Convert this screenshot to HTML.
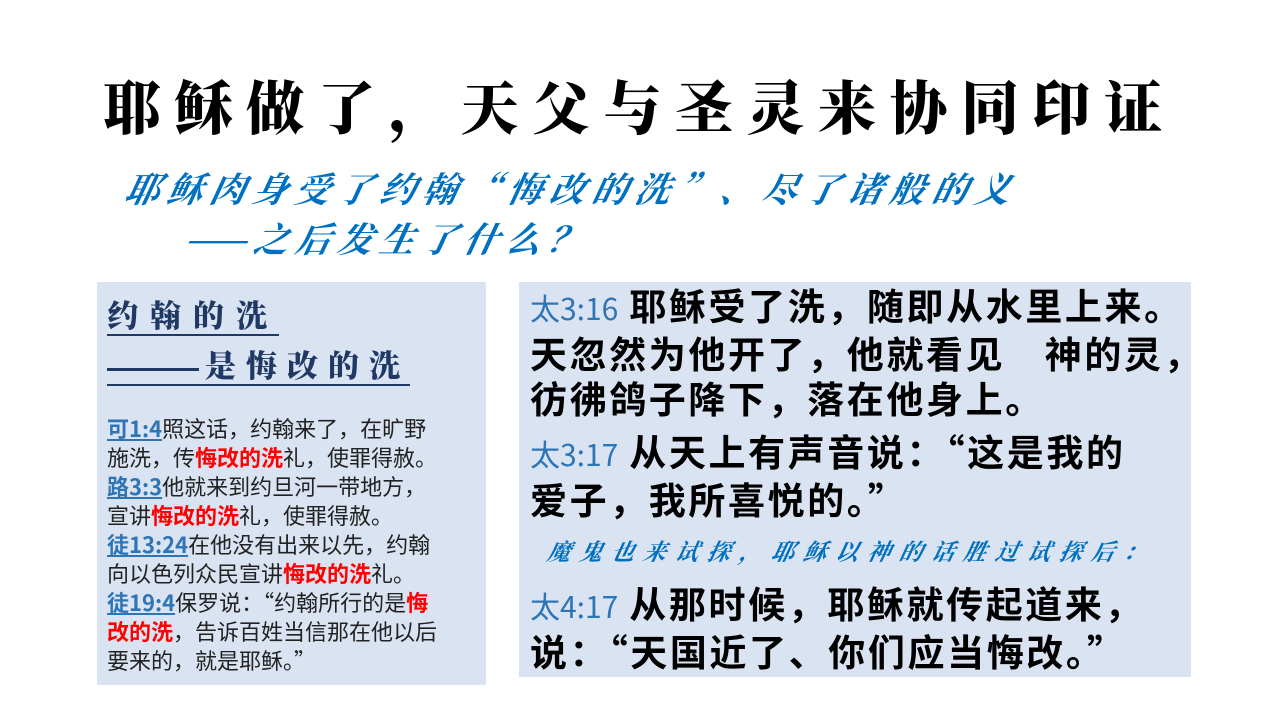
<!DOCTYPE html>
<html><head><meta charset="utf-8"><style>
body{margin:0;width:1280px;height:720px;background:#fff;position:relative;overflow:hidden;font-family:"Noto Sans CJK SC","Liberation Sans",sans-serif}
.a{position:absolute;white-space:nowrap}
#title{left:103px;top:64px;font-family:"Noto Serif CJK SC",serif;font-weight:900;font-size:58px;letter-spacing:13.5px;color:#000;line-height:80px}
.sub{color:#0070c0;font-style:italic;font-size:35px;font-family:"Noto Serif CJK SC",serif;font-weight:700;transform:skewX(-12deg);line-height:48px}
#lb{left:97px;top:282px;width:389px;height:403px;background:#dae3f1}
#rb{left:519px;top:282px;width:672px;height:395px;background:#dae3f1}
.h{color:#1f3864;font-family:"Noto Serif CJK SC",serif;font-weight:900;font-size:31px;letter-spacing:12px;border-bottom:2px solid #1f3864;line-height:40px}
.lt{left:107px;top:414px;font-size:22px;line-height:29px;color:#222}
.ref{color:#2e75b6;font-weight:bold;text-decoration:underline}
.red{color:#f00;font-weight:bold}
.rt{left:530px;font-size:37px;letter-spacing:2.6px;font-weight:bold;color:#000;line-height:45px}
.rr{color:#2e75b6;font-weight:normal;font-size:30px;letter-spacing:0}
.dash{display:inline-block;width:92px;height:3px;background:#1f3864;vertical-align:middle;margin-right:6px}
</style></head><body>
<div class="a" id="title">耶稣做了，天父与圣灵来协同印证</div>
<div class="a sub" style="left:126px;top:164px;letter-spacing:7.5px">耶稣肉身受了约翰“悔改的洗”、尽了诸般的义</div>
<div class="a sub" style="left:186px;top:214px;letter-spacing:7px">——之后发生了什么？</div>
<div class="a" id="lb"></div>
<div class="a h" style="left:107px;top:294px">约翰的洗</div>
<div class="a h" style="left:107px;top:344px;letter-spacing:10px"><span class="dash"></span>是悔改的洗</div>
<div class="a lt">
<span class="ref">可1:4</span>照这话，约翰来了，在旷野<br>施洗，传<span class="red">悔改的洗</span>礼，使罪得赦。<br>
<span class="ref">路3:3</span>他就来到约旦河一带地方，<br>宣讲<span class="red">悔改的洗</span>礼，使罪得赦。<br>
<span class="ref">徒13:24</span>在他没有出来以先，约翰<br>向以色列众民宣讲<span class="red">悔改的洗</span>礼。<br>
<span class="ref">徒19:4</span>保罗说：“约翰所行的是<span class="red">悔</span><br><span class="red">改的洗</span>，告诉百姓当信那在他以后<br>要来的，就是耶稣。”</div>
<div class="a" id="rb"></div>
<div class="a rt" style="top:282px"><span class="rr">太3:16</span> 耶稣受了洗，随即从水里上来。<br>天忽然为他开了，他就看见　神的灵，<br>彷彿鸽子降下，落在他身上。</div>
<div class="a rt" style="top:428px"><span class="rr">太3:17</span> 从天上有声音说：“这是我的<br>爱子，我所喜悦的。”</div>
<div class="a sub" style="left:548px;top:527px;font-size:23px;letter-spacing:9px">魔鬼也来试探，耶稣以神的话胜过试探后：</div>
<div class="a rt" style="top:580px"><span class="rr">太4:17</span> 从那时候，耶稣就传起道来，<br>说：“天国近了、你们应当悔改。”</div>
</body></html>
